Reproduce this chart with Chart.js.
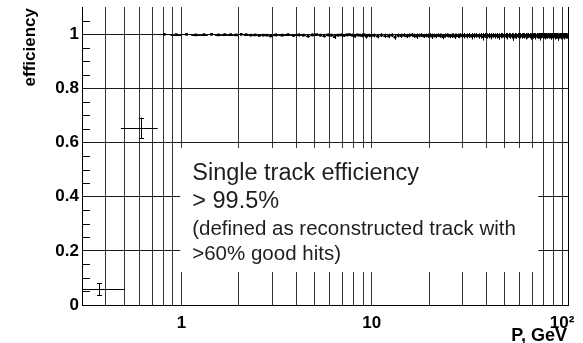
<!DOCTYPE html>
<html>
<head>
<meta charset="utf-8">
<script src="https://cdn.jsdelivr.net/npm/chart.js@4.4.1/dist/chart.umd.min.js"></script>
<style>
  html, body { margin: 0; padding: 0; background: #fff; }
  #wrap { width: 583px; height: 343px; }
</style>
</head>
<body>
<div id="wrap"><canvas id="eff" width="583" height="343"></canvas></div>
<script>
// low momentum bins (P in GeV)
const pLow = [0.37, 0.61];
const pLowMin = [0.3, 0.48];
const pLowMax = [0.5, 0.75];
const effLow = [0.058, 0.654];
const errLow = [0.022, 0.038];

// bin centres above 0.75 GeV
const pBand = [
  0.8125, 0.9375, 1.0625, 1.1875, 1.3125, 1.4375, 1.5625, 1.6875, 1.8125, 1.9375,
  2.0625, 2.1875, 2.3125, 2.4375, 2.5625, 2.6875, 2.8125, 2.9375,
  3.125, 3.375, 3.625, 3.875, 4.125, 4.375, 4.625, 4.875, 5.125, 5.375,
  5.625, 5.875, 6.125, 6.375, 6.625, 6.875, 7.125, 7.375, 7.625, 7.875,
  8.125, 8.375, 8.625, 8.875, 9.125, 9.375, 9.625, 9.875,
  10.25, 10.75, 11.25, 11.75, 12.25, 12.75, 13.25, 13.75, 14.25, 14.75,
  15.25, 15.75, 16.25, 16.75, 17.25, 17.75, 18.25, 18.75, 19.25, 19.75,
  20.25, 20.75, 21.25, 21.75, 22.25, 22.75, 23.25, 23.75, 24.25, 24.75,
  25.25, 25.75, 26.25, 26.75, 27.25, 27.75, 28.25, 28.75, 29.25, 29.75,
  30.5, 31.5, 32.5, 33.5, 34.5, 35.5, 36.5, 37.5, 38.5, 39.5,
  40.5, 41.5, 42.5, 43.5, 44.5, 45.5, 46.5, 47.5, 48.5, 49.5,
  50.5, 51.5, 52.5, 53.5, 54.5, 55.5, 56.5, 57.5, 58.5, 59.5,
  60.5, 61.5, 62.5, 63.5, 64.5, 65.5, 66.5, 67.5, 68.5, 69.5,
  70.5, 71.5, 72.5, 73.5, 74.5, 75.5, 76.5, 77.5, 78.5, 79.5,
  80.5, 81.5, 82.5, 83.5, 84.5, 85.5, 86.5, 87.5, 88.5, 89.5,
  90.5, 91.5, 92.5, 93.5, 94.5, 95.5, 96.5, 97.5, 98.5, 99.5,
  100.5, 101.5, 102.5, 103.5, 104.5, 105.5, 106.5
];
const effBand = [
  0.999, 0.998, 0.999, 0.997, 0.998, 0.999, 0.997, 0.998, 0.998, 0.997,
  0.999, 0.998, 0.996, 0.997, 0.995, 0.996, 0.996, 0.993,
  0.997, 0.996, 0.998, 0.995, 0.997, 0.996, 0.993, 0.997, 0.998, 0.996,
  0.994, 0.997, 0.996, 0.991, 0.996, 0.997, 0.995, 0.997, 0.998, 0.996,
  0.993, 0.997, 0.996, 0.995, 0.997, 0.992, 0.996, 0.994,
  0.995, 0.992, 0.996, 0.994, 0.993, 0.996, 0.989, 0.995, 0.994, 0.996,
  0.993, 0.995, 0.997, 0.994, 0.992, 0.995, 0.996, 0.993, 0.995, 0.994,
  0.996, 0.992, 0.995, 0.993, 0.996, 0.994, 0.995, 0.991, 0.994, 0.996,
  0.995, 0.993, 0.994, 0.996, 0.992, 0.995, 0.994, 0.993, 0.996, 0.994,
  0.994, 0.993, 0.995, 0.992, 0.994, 0.995, 0.993, 0.994, 0.990, 0.995,
  0.993, 0.994, 0.992, 0.995, 0.993, 0.994, 0.991, 0.994, 0.995, 0.993,
  0.994, 0.992, 0.995, 0.993, 0.994, 0.989, 0.994, 0.993, 0.995, 0.992,
  0.994, 0.993, 0.995, 0.994, 0.992, 0.993, 0.995, 0.994, 0.991, 0.994,
  0.993, 0.995, 0.992, 0.994, 0.993, 0.994, 0.990, 0.994, 0.995, 0.993,
  0.994, 0.992, 0.994, 0.993, 0.995, 0.993, 0.994, 0.991, 0.994, 0.993,
  0.995, 0.992, 0.994, 0.993, 0.994, 0.989, 0.993, 0.994, 0.992, 0.995,
  0.993, 0.994, 0.992, 0.994, 0.993, 0.995, 0.993
];
const errBand = [
  0.001, 0.002, 0.001, 0.002, 0.002, 0.001, 0.002, 0.002, 0.002, 0.002,
  0.001, 0.002, 0.003, 0.002, 0.003, 0.003, 0.003, 0.004,
  0.005, 0.005, 0.004, 0.005, 0.005, 0.005, 0.007, 0.005, 0.004, 0.005,
  0.007, 0.005, 0.005, 0.009, 0.005, 0.005, 0.005, 0.005, 0.004, 0.005,
  0.007, 0.005, 0.005, 0.007, 0.005, 0.009, 0.005, 0.007,
  0.007, 0.008, 0.007, 0.008, 0.008, 0.007, 0.010, 0.007, 0.008, 0.007,
  0.008, 0.007, 0.007, 0.008, 0.010, 0.007, 0.007, 0.008, 0.007, 0.008,
  0.007, 0.010, 0.007, 0.008, 0.007, 0.008, 0.007, 0.010, 0.008, 0.007,
  0.007, 0.008, 0.008, 0.007, 0.010, 0.007, 0.008, 0.008, 0.007, 0.008,
  0.010, 0.010, 0.009, 0.012, 0.010, 0.009, 0.010, 0.010, 0.014, 0.009,
  0.010, 0.010, 0.012, 0.009, 0.010, 0.010, 0.012, 0.010, 0.009, 0.010,
  0.010, 0.012, 0.009, 0.010, 0.010, 0.014, 0.010, 0.010, 0.009, 0.012,
  0.010, 0.010, 0.009, 0.010, 0.012, 0.010, 0.009, 0.010, 0.012, 0.010,
  0.010, 0.009, 0.012, 0.010, 0.010, 0.010, 0.014, 0.010, 0.009, 0.010,
  0.010, 0.012, 0.010, 0.010, 0.009, 0.010, 0.010, 0.012, 0.010, 0.010,
  0.009, 0.012, 0.010, 0.010, 0.010, 0.014, 0.010, 0.010, 0.012, 0.009,
  0.010, 0.010, 0.012, 0.010, 0.010, 0.009, 0.010
];

const xGridTicks = [0.4, 0.5, 0.6, 0.7, 0.8, 0.9, 1, 2, 3, 4, 5, 6, 7, 8, 9,
  10, 20, 30, 40, 50, 60, 70, 80, 90, 100];
const xLabelTicks = [1, 10, 100];
const xLabels = ['1', '10', '10\u00B2'];
const yTicks = [0, 0.2, 0.4, 0.6, 0.8, 1];
const yMinorTicks = [0.05, 0.1, 0.15, 0.25, 0.3, 0.35, 0.45, 0.5, 0.55, 0.65,
  0.7, 0.75, 0.85, 0.9, 0.95, 1.05];
const infoLines = ['Single track efficiency', '> 99.5%',
  '(defined as reconstructed track with', '>60% good hits)'];

const FONT = "'Liberation Sans', Arial, Helvetica, sans-serif";

const lowData = pLow.map((p, i) => ({
  x: p, y: effLow[i], xlo: pLowMin[i], xhi: pLowMax[i], err: errLow[i]
}));
const bandData = pBand.map((p, i) => {
  const prev = i > 0 ? pBand[i - 1] : p - (pBand[1] - p);
  const next = i < pBand.length - 1 ? pBand[i + 1] : p + (p - pBand[i - 1]);
  return { x: p, y: effBand[i], xlo: (p + prev) / 2, xhi: (p + next) / 2, err: errBand[i] };
});

const snap = v => Math.round(v) + 0.5;

// white text box, minor ticks, right frame
const frameAndBox = {
  id: 'frameAndBox',
  beforeDatasetsDraw(chart, args, opts) {
    const { ctx, chartArea: a, scales: { x, y } } = chart;
    ctx.save();
    const bx0 = x.getPixelForValue(opts.box.pMin), bx1 = x.getPixelForValue(opts.box.pMax);
    const by0 = y.getPixelForValue(opts.box.effMax), by1 = y.getPixelForValue(opts.box.effMin);
    ctx.fillStyle = '#fff';
    ctx.fillRect(bx0, by0, bx1 - bx0, by1 - by0);

    ctx.fillStyle = '#1e1e1e';
    ctx.textAlign = 'left';
    ctx.textBaseline = 'alphabetic';
    const tx = bx0 + 12;
    ctx.font = '23.5px ' + FONT;
    ctx.fillText(infoLines[0], tx, by0 + 32);
    ctx.fillText(infoLines[1], tx, by0 + 60);
    ctx.font = '20.5px ' + FONT;
    ctx.fillText(infoLines[2], tx, by0 + 87);
    ctx.fillText(infoLines[3], tx, by0 + 112);

    ctx.strokeStyle = '#000';
    ctx.lineWidth = 1;
    ctx.beginPath();
    yMinorTicks.forEach(v => {
      const py = snap(y.getPixelForValue(v));
      ctx.moveTo(a.left, py);
      ctx.lineTo(a.left + 8, py);
    });
    const rx = snap(a.right);
    ctx.moveTo(rx, a.top);
    ctx.lineTo(rx, a.bottom);
    ctx.stroke();
    ctx.restore();
  },
  afterDraw(chart) {
    const { ctx, chartArea: a } = chart;
    ctx.save();
    ctx.fillStyle = '#000';
    ctx.textAlign = 'right';
    ctx.textBaseline = 'alphabetic';
    ctx.font = 'bold 18px ' + FONT;
    ctx.fillText('P, GeV', 567, 341);
    ctx.font = 'bold 17px ' + FONT;
    ctx.translate(35, a.top + 1);
    ctx.rotate(-Math.PI / 2);
    ctx.fillText('efficiency', 0, 0);
    ctx.restore();
  }
};

const errorBars = {
  id: 'errorBars',
  afterDatasetsDraw(chart) {
    const { ctx, chartArea: a, scales: { x, y } } = chart;
    ctx.save();
    ctx.beginPath();
    ctx.rect(a.left, a.top, a.right - a.left, a.bottom - a.top);
    ctx.clip();
    ctx.strokeStyle = '#000';
    ctx.lineWidth = 1;
    chart.data.datasets.forEach(ds => {
      const cap = ds.capSize || 0;
      ctx.beginPath();
      ds.data.forEach(d => {
        const px = snap(x.getPixelForValue(d.x));
        const py = snap(y.getPixelForValue(d.y));
        const yt = y.getPixelForValue(d.y + d.err);
        const yb = y.getPixelForValue(d.y - d.err);
        ctx.moveTo(x.getPixelForValue(d.xlo), py);
        ctx.lineTo(x.getPixelForValue(d.xhi), py);
        ctx.moveTo(px, yt);
        ctx.lineTo(px, yb);
        if (cap) {
          ctx.moveTo(px - cap / 2, snap(yt));
          ctx.lineTo(px + cap / 2, snap(yt));
          ctx.moveTo(px - cap / 2, snap(yb));
          ctx.lineTo(px + cap / 2, snap(yb));
        }
      });
      ctx.stroke();
    });
    ctx.restore();
  }
};

new Chart(document.getElementById('eff'), {
  type: 'scatter',
  data: {
    datasets: [
      { data: lowData, pointRadius: 0, capSize: 5 },
      { data: bandData, pointRadius: 1.9, pointStyle: 'rect', backgroundColor: '#000', borderWidth: 0 }
    ]
  },
  options: {
    responsive: false,
    animation: false,
    events: [],
    devicePixelRatio: 1,
    layout: { padding: { top: 7, right: 15, left: 0, bottom: 0 } },
    scales: {
      x: {
        type: 'logarithmic',
        min: 0.307,
        max: 107.5,
        afterBuildTicks: s => { s.ticks = xGridTicks.map(v => ({ value: v })); },
        afterFit: s => { s.height = 38; s.paddingLeft = 0; s.paddingRight = 0; },
        ticks: {
          autoSkip: false, maxRotation: 0, minRotation: 0, padding: 8, color: '#000',
          font: { family: FONT, size: 17, weight: 'bold' },
          callback: v => { const i = xLabelTicks.indexOf(v); return i >= 0 ? xLabels[i] : ''; }
        },
        grid: { color: '#333', lineWidth: 1, drawTicks: false },
        border: { display: true, color: '#000', width: 1 }
      },
      y: {
        min: 0,
        max: 1.1,
        afterBuildTicks: s => { s.ticks = yTicks.map(v => ({ value: v })); },
        afterFit: s => { s.width = 82; s.paddingTop = 0; s.paddingBottom = 0; },
        ticks: {
          padding: 3, color: '#000',
          font: { family: FONT, size: 17, weight: 'bold' },
          callback: v => String(v)
        },
        grid: { color: '#1a1a1a', lineWidth: 1, drawTicks: false },
        border: { display: true, color: '#000', width: 1 }
      }
    },
    plugins: {
      legend: { display: false },
      tooltip: { enabled: false },
      frameAndBox: { box: { pMin: 0.985, pMax: 75, effMin: 0.122, effMax: 0.58 } }
    }
  },
  plugins: [frameAndBox, errorBars]
});
</script>
</body>
</html>
